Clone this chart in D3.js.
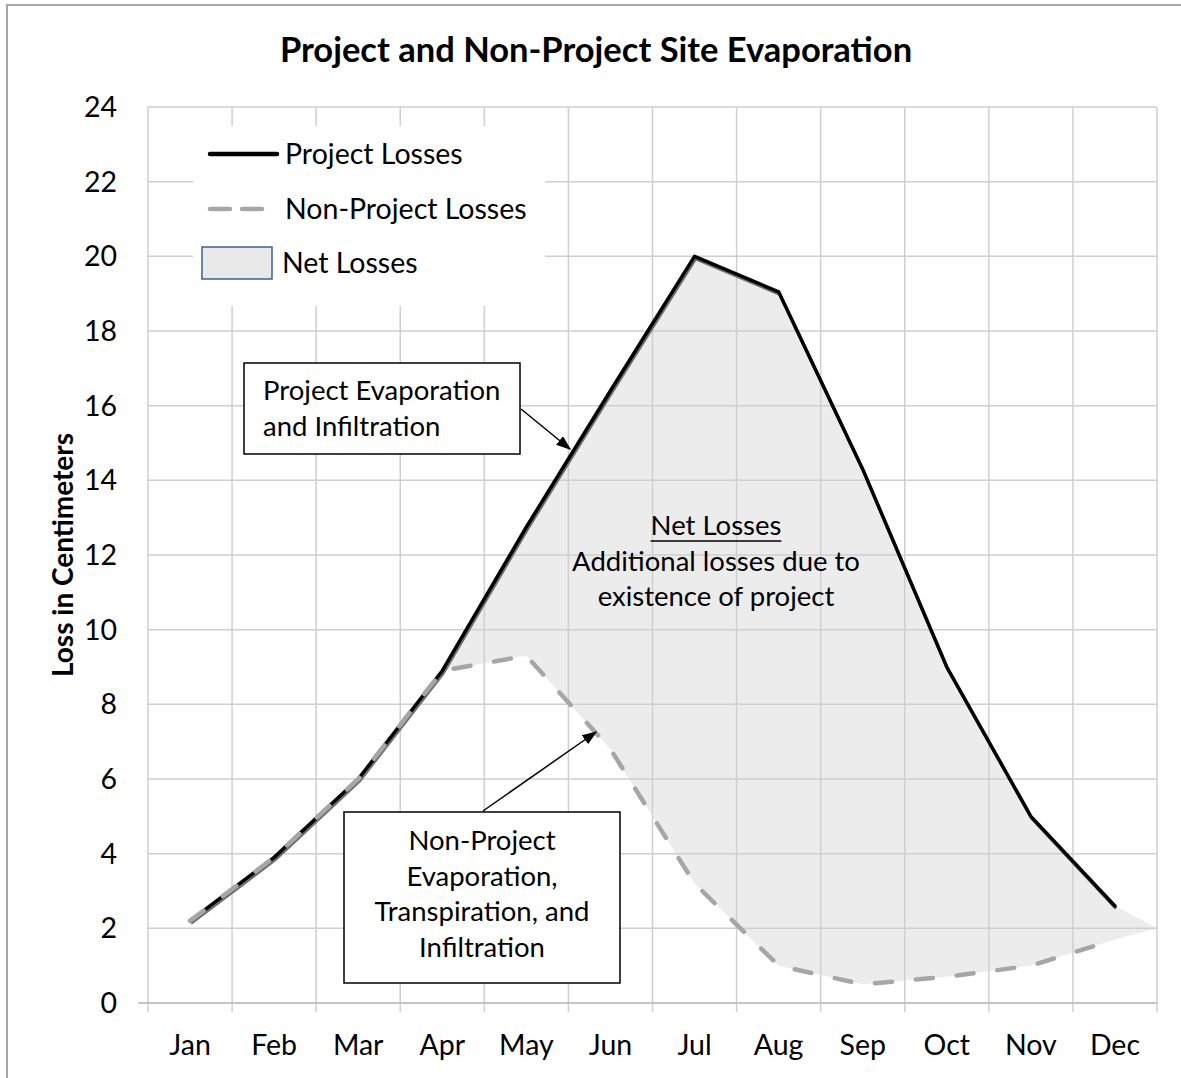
<!DOCTYPE html>
<html>
<head>
<meta charset="utf-8">
<script src="https://cdn.jsdelivr.net/npm/d3@7"></script>
<style>
  body { margin: 0; background: #fff; }
  svg text { font-family: Lato, "Liberation Sans", sans-serif; fill: #000; }
</style>
</head>
<body>
<svg id="chart" width="1181" height="1078"></svg>
<script>
// chart values
const months = ["Jan","Feb","Mar","Apr","May","Jun","Jul","Aug","Sep","Oct","Nov","Dec"];
const projectLosses = [2.2, 3.9, 6.0, 8.9, 12.75, 16.4, 20.0, 19.05, 14.3, 9.0, 5.0, 2.6];
const nonProjectLosses = [2.2, 3.9, 6.0, 8.9, 9.3, 6.8, 3.2, 1.0, 0.5, 0.7, 1.0, 1.7];
const netEdgeValue = 2.0;   // where the shaded area closes at the right edge
const yTicks = [0, 2, 4, 6, 8, 10, 12, 14, 16, 18, 20, 22, 24];

const svg = d3.select("#chart");
const W = 1181, H = 1078;
const plotL = 148, plotR = 1157, plotT = 107, plotB = 1003;
const fs = 28.5, noteFs = 27.5;

svg.append("rect").attr("width", W).attr("height", H).attr("fill", "#fff");
// outer chart border (top + left visible)
svg.append("rect")
  .attr("x", 7).attr("y", 5).attr("width", W + 20).attr("height", H + 20)
  .attr("fill", "none").attr("stroke", "#a6a6a6").attr("stroke-width", 2);

const x = d3.scaleBand().domain(months).range([plotL, plotR]);
const y = d3.scaleLinear().domain([0, 24]).range([plotB, plotT]);
const cx = m => x(m) + x.bandwidth() / 2;

// title
svg.append("text")
  .attr("x", 596).attr("y", 62)
  .attr("text-anchor", "middle")
  .attr("font-size", 34.5).attr("font-weight", "bold")
  .text("Project and Non-Project Site Evaporation");

// net losses area (drawn under the grid)
const areaPts = months.map((m, i) => ({ x: cx(m), hi: projectLosses[i], lo: nonProjectLosses[i] }));
areaPts.push({ x: plotR, hi: netEdgeValue, lo: netEdgeValue });
svg.append("path")
  .datum(areaPts)
  .attr("fill", "#ececec")
  .attr("d", d3.area().x(d => d.x).y0(d => y(d.lo)).y1(d => y(d.hi)));

// gridlines
const grid = svg.append("g").attr("stroke", "#cfcfcf").attr("stroke-width", 1.5);
grid.selectAll("line.h")
  .data(yTicks)
  .join("line")
  .attr("x1", plotL).attr("x2", plotR)
  .attr("y1", d => y(d)).attr("y2", d => y(d));
const bounds = months.map(m => x(m)).concat([plotR]);
grid.selectAll("line.v")
  .data(bounds)
  .join("line")
  .attr("x1", d => d).attr("x2", d => d)
  .attr("y1", plotT).attr("y2", plotB + 9);
// bottom axis line
svg.append("line")
  .attr("x1", plotL - 10).attr("x2", plotR)
  .attr("y1", plotB).attr("y2", plotB)
  .attr("stroke", "#c4c4c4").attr("stroke-width", 2);

// y tick labels
svg.append("g").selectAll("text")
  .data(yTicks)
  .join("text")
  .attr("x", 117).attr("y", d => y(d) + 10)
  .attr("text-anchor", "end")
  .attr("font-size", fs)
  .text(d => d);

// x labels
svg.append("g").selectAll("text")
  .data(months)
  .join("text")
  .attr("x", d => cx(d)).attr("y", 1055)
  .attr("text-anchor", "middle")
  .attr("font-size", fs)
  .text(d => d);

// y axis title
svg.append("text")
  .attr("transform", "translate(73,555) rotate(-90)")
  .attr("text-anchor", "middle")
  .attr("font-size", 28).attr("font-weight", "bold")
  .text("Loss in Centimeters");

// lines
const line = d3.line().x((d, i) => cx(months[i])).y(d => y(d));
svg.append("path")
  .datum(projectLosses)
  .attr("transform", "translate(1,2.5)")
  .attr("fill", "none").attr("stroke", "#6e6e6e").attr("stroke-width", 3)
  .attr("stroke-linejoin", "round")
  .attr("d", line);
svg.append("path")
  .datum(projectLosses)
  .attr("fill", "none").attr("stroke", "#000").attr("stroke-width", 3.5)
  .attr("stroke-linejoin", "round").attr("stroke-linecap", "round")
  .attr("d", line);
svg.append("path")
  .datum(nonProjectLosses)
  .attr("fill", "none").attr("stroke", "#a6a6a6").attr("stroke-width", 4.5)
  .attr("stroke-dasharray", "17,24").attr("stroke-linecap", "round")
  .attr("stroke-linejoin", "round")
  .attr("d", line);

// legend
const lg = svg.append("g");
lg.append("rect").attr("x", 193).attr("y", 126).attr("width", 352).attr("height", 180).attr("fill", "#fff");
lg.append("line").attr("x1", 210).attr("x2", 277).attr("y1", 154).attr("y2", 154)
  .attr("stroke", "#000").attr("stroke-width", 4.5).attr("stroke-linecap", "round");
lg.append("line").attr("x1", 210).attr("x2", 272).attr("y1", 209).attr("y2", 209)
  .attr("stroke", "#a6a6a6").attr("stroke-width", 4.5)
  .attr("stroke-dasharray", "20,12").attr("stroke-linecap", "round");
lg.append("rect").attr("x", 202).attr("y", 247).attr("width", 70).attr("height", 32)
  .attr("fill", "#e8e8e8").attr("stroke", "#3f5f8f").attr("stroke-width", 1.5);
const legendText = [["Project Losses", 285, 164], ["Non-Project Losses", 285, 219], ["Net Losses", 282, 273]];
lg.selectAll("text.l")
  .data(legendText)
  .join("text")
  .attr("x", d => d[1]).attr("y", d => d[2])
  .attr("font-size", fs)
  .text(d => d[0]);

// arrow marker
svg.append("defs").append("marker")
  .attr("id", "arr").attr("viewBox", "0 0 10 10")
  .attr("refX", 9).attr("refY", 5)
  .attr("markerWidth", 15).attr("markerHeight", 11)
  .attr("markerUnits", "userSpaceOnUse")
  .attr("orient", "auto")
  .attr("preserveAspectRatio", "none")
  .append("path").attr("d", "M0,0L10,5L0,10z").attr("fill", "#000");

// callout: project
svg.append("line")
  .attr("x1", 521).attr("y1", 409).attr("x2", 570).attr("y2", 449)
  .attr("stroke", "#000").attr("stroke-width", 1.5)
  .attr("marker-end", "url(#arr)");
svg.append("rect").attr("x", 244).attr("y", 363).attr("width", 276).attr("height", 91)
  .attr("fill", "#fff").attr("stroke", "#000").attr("stroke-width", 1.5);
svg.append("text").attr("x", 263).attr("y", 400).attr("font-size", noteFs).text("Project Evaporation");
svg.append("text").attr("x", 263).attr("y", 436).attr("font-size", noteFs).text("and Infiltration");

// callout: non-project
svg.append("line")
  .attr("x1", 483).attr("y1", 811).attr("x2", 596).attr("y2", 732)
  .attr("stroke", "#000").attr("stroke-width", 1.5)
  .attr("marker-end", "url(#arr)");
svg.append("rect").attr("x", 344).attr("y", 812).attr("width", 276).attr("height", 171)
  .attr("fill", "#fff").attr("stroke", "#000").attr("stroke-width", 1.5);
const npLines = ["Non-Project", "Evaporation,", "Transpiration, and", "Infiltration"];
svg.append("g").selectAll("text")
  .data(npLines)
  .join("text")
  .attr("x", 482).attr("y", (d, i) => 850 + i * 35.5)
  .attr("text-anchor", "middle").attr("font-size", noteFs)
  .text(d => d);

// net losses annotation
const netTitle = svg.append("text").attr("x", 716).attr("y", 535).attr("text-anchor", "middle")
  .attr("font-size", noteFs).text("Net Losses");
const tw = netTitle.node().getComputedTextLength();
svg.append("line").attr("x1", 716 - tw / 2).attr("x2", 716 + tw / 2).attr("y1", 541).attr("y2", 541)
  .attr("stroke", "#000").attr("stroke-width", 1.5);
svg.append("text").attr("x", 716).attr("y", 571).attr("text-anchor", "middle")
  .attr("font-size", noteFs).text("Additional losses due to");
svg.append("text").attr("x", 716).attr("y", 606).attr("text-anchor", "middle")
  .attr("font-size", noteFs).text("existence of project");
</script>
</body>
</html>
